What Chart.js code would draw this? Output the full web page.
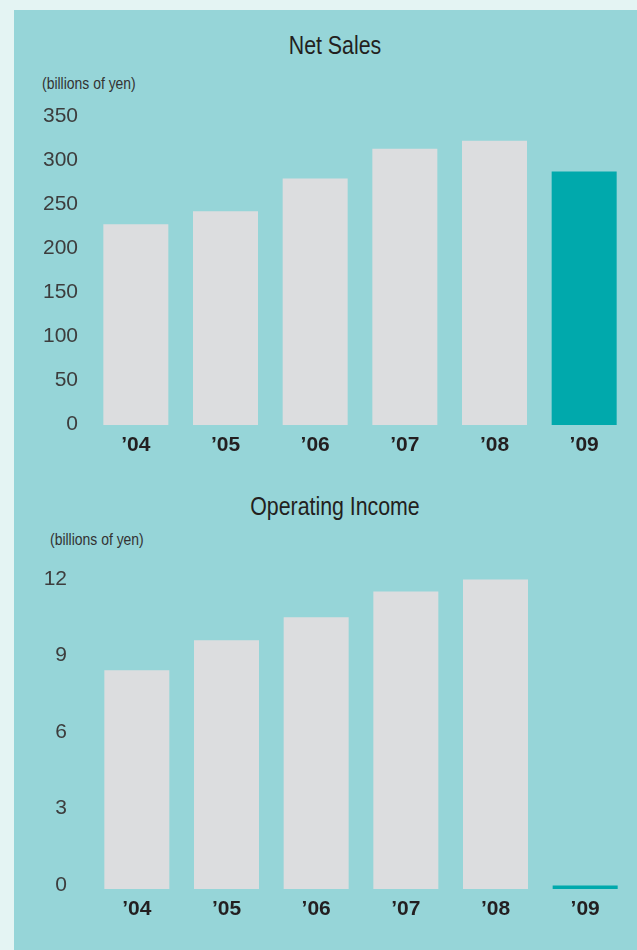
<!DOCTYPE html>
<html>
<head>
<meta charset="utf-8">
<script src="https://cdn.jsdelivr.net/npm/chart.js@4"></script>
<style>
  html, body { margin: 0; padding: 0; }
  body { width: 637px; height: 950px; background: #e4f4f3; position: relative; overflow: hidden; }
  .panel { position: absolute; left: 14px; top: 10px; width: 623px; height: 940px; background: #96d5d8; }
  .title, .unit { position: absolute; color: #231f20; font-family: 'Liberation Sans', Arial, sans-serif; line-height: 1; white-space: nowrap; }
  .title { left: 33px; width: 604px; text-align: center; font-size: 26px; transform: scaleX(0.82); transform-origin: 302px 0; }
  .unit { font-size: 17px; color: #333; transform: scaleX(0.82); transform-origin: 0 0; }
  .box { position: absolute; left: 14px; width: 623px; }
</style>
</head>
<body>
<div class="panel"></div>

<div class="title" style="top:32px">Net Sales</div>
<div class="unit" style="left:42px; top:75px">(billions of yen)</div>
<div class="box" style="top:100px; height:370px"><canvas id="chart-net-sales"></canvas></div>

<div class="title" style="top:493px">Operating Income</div>
<div class="unit" style="left:50px; top:531px">(billions of yen)</div>
<div class="box" style="top:550px; height:384px"><canvas id="chart-operating-income"></canvas></div>

<script>
  const years = ['\u201904', '\u201905', '\u201906', '\u201907', '\u201908', '\u201909'];
  const netSales = [228, 243, 280, 314, 323, 288];
  const operatingIncome = [8.57, 9.75, 10.65, 11.66, 12.13, 0.14];
  const netSalesTicks = [0, 50, 100, 150, 200, 250, 300, 350];
  const incomeTicks = [0, 3, 6, 9, 12];

  const grey = '#dcdddf';
  const teal = '#00a9ac';
  const barColors = years.map((_, i) => i === years.length - 1 ? teal : grey);

  Chart.defaults.font.family = "'Liberation Sans', Arial, sans-serif";
  Chart.defaults.animation = false;

  function makeChart(id, values, ticks, opts) {
    return new Chart(document.getElementById(id), {
      type: 'bar',
      data: {
        labels: years,
        datasets: [{
          data: values,
          backgroundColor: barColors,
          borderWidth: 0,
          categoryPercentage: 1,
          barPercentage: 0.725,
        }],
      },
      options: {
        responsive: true,
        maintainAspectRatio: false,
        layout: { padding: { top: opts.padTop, right: opts.padRight, left: 0, bottom: 0 } },
        plugins: { legend: { display: false }, tooltip: { enabled: false } },
        events: [],
        scales: {
          x: {
            grid: { display: false, drawTicks: false },
            border: { display: false },
            ticks: { color: '#231f20', padding: 8, font: { size: 21, weight: 'bold' } },
            afterFit: s => { s.height = 45; },
          },
          y: {
            min: 0,
            max: opts.max,
            grid: { display: false, drawTicks: false },
            border: { display: false },
            ticks: { color: '#3d3d3d', padding: opts.tickPad, labelOffset: opts.labelOffset, font: { size: 21 } },
            afterBuildTicks: s => { s.ticks = ticks.map(v => ({ value: v })); },
            // fixed axis width, and no extra room for the top label
            afterFit: s => { s.width = opts.axisWidth; s.paddingTop = 0; s.paddingBottom = 0; },
          },
        },
      },
    });
  }

  makeChart('chart-net-sales', netSales, netSalesTicks,
    { max: 350, padTop: 17, padRight: 8, axisWidth: 77, tickPad: 13, labelOffset: -1 });
  makeChart('chart-operating-income', operatingIncome, incomeTicks,
    { max: 12.5, padTop: 20, padRight: 7, axisWidth: 78, tickPad: 25, labelOffset: -4 });
</script>
</body>
</html>
